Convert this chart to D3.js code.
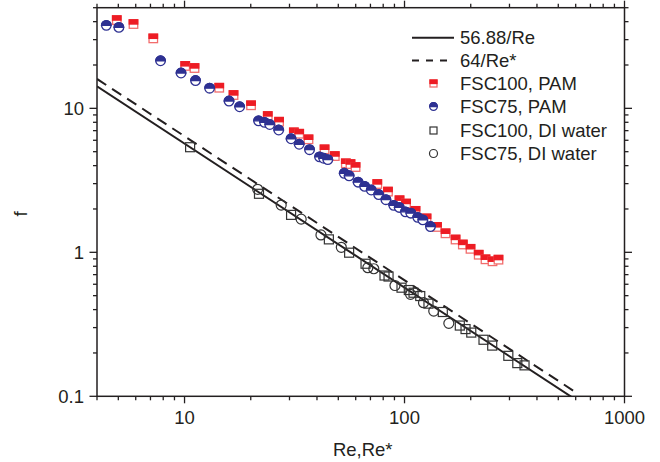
<!DOCTYPE html>
<html><head><meta charset="utf-8">
<script src="https://cdn.jsdelivr.net/npm/d3@7"></script>
<style>body{margin:0;background:#fff}svg{display:block}text{font-family:"Liberation Sans",Arial,sans-serif;fill:#231f20}</style>
</head><body><svg id="c" width="660" height="462"></svg>
<script>
// ---- data ----
const xDomain = [4, 1000];
const yDomain = [0.1, 50];
const xTickLabels = [10, 100, 1000];
const yTickLabels = [0.1, 1, 10];
const fsc100PamRe = [4.92,5.86,7.21,10.07,11.1,14.38,16.7,20.06,23.9,26.9,31.4,33.2,36.6,43.3,48.2,54.1,56.8,59.9,75.2,84.1,94.9,101.6,112.2,125.9,140.5,153.6,170.6,184.1,199.5,217.4,233.4,251.2,267.4];
const fsc100PamF  = [41.0,38.5,30.6,19.7,19.05,13.9,12.37,10.5,8.84,8.07,6.81,6.66,6.09,5.19,4.66,4.15,4.10,3.91,2.98,2.64,2.30,2.18,1.94,1.72,1.50,1.355,1.227,1.133,1.057,0.962,0.894,0.866,0.889];
const fsc75PamRe = [4.41,5.03,7.78,9.64,11.22,13.0,15.93,17.8,21.7,23.1,24.4,26.8,30.5,33.2,37.0,41.1,42.9,44.8,53.2,56.0,61.5,65.9,70.6,76.3,82.3,89.3,94.6,101.0,106.8,114.8,121.1,131.2];
const fsc75PamF  = [37.7,36.5,21.4,17.6,15.6,13.8,11.24,10.26,8.19,7.99,7.72,7.07,6.15,5.63,5.16,4.60,4.50,4.40,3.54,3.40,3.07,2.87,2.71,2.52,2.32,2.12,2.05,1.91,1.87,1.75,1.68,1.51];
const fsc100DiRe = [10.6,21.8,30.5,45.3,56.0,66.5,81.1,84.6,96.9,104.6,109.9,117.9,128.5,149.3,178.4,189.4,201.1,228.6,250.4,296.4,325.6,351.2];
const fsc100DiF  = [5.37,2.55,1.82,1.23,0.994,0.833,0.690,0.679,0.568,0.547,0.524,0.497,0.440,0.385,0.310,0.293,0.277,0.247,0.225,0.191,0.170,0.164];
const fsc75DiRe = [21.5,27.5,33.9,41.7,51.6,68.1,72.5,90.5,106.5,122.0,135.8,159.0];
const fsc75DiF  = [2.74,2.13,1.70,1.32,1.083,0.782,0.769,0.588,0.511,0.447,0.391,0.321];
const lineRange = [4, 600];
const coefSolid = 56.88, coefDashed = 64;
const legendLabels = ["56.88/Re","64/Re*","FSC100, PAM","FSC75, PAM","FSC100, DI water","FSC75, DI water"];

// ---- drawing ----
const RED = "#ed1c24", BLUE = "#2e3192", INK = "#231f20";
const svg = d3.select("#c");
const L = 97, R = 624.5, T = 7.7, B = 396.3;
const x = d3.scaleLog().domain(xDomain).range([L, R]);
const y = d3.scaleLog().domain(yDomain).range([B, T]);

svg.append("defs").append("clipPath").attr("id","clip")
  .append("rect").attr("x",L).attr("y",T).attr("width",R-L).attr("height",B-T);

// ticks
const xTicks = x.ticks().filter(v=>v>=xDomain[0] && v<=xDomain[1]);
const yTicks = y.ticks().filter(v=>v>=yDomain[0] && v<=yDomain[1]);
const isMajor = v => Math.abs(Math.log10(v) - Math.round(Math.log10(v))) < 1e-9;
const tg = svg.append("g").attr("stroke",INK).attr("stroke-width",1.3);
xTicks.forEach(v=>{
  const len = isMajor(v)?7:4;
  tg.append("line").attr("x1",x(v)).attr("x2",x(v)).attr("y1",B).attr("y2",B+len);
  tg.append("line").attr("x1",x(v)).attr("x2",x(v)).attr("y1",T).attr("y2",T-len);
});
yTicks.forEach(v=>{
  const len = isMajor(v)?7.5:4;
  tg.append("line").attr("y1",y(v)).attr("y2",y(v)).attr("x1",L).attr("x2",L-len);
  tg.append("line").attr("y1",y(v)).attr("y2",y(v)).attr("x1",R).attr("x2",R+len);
});
svg.append("rect").attr("x",L).attr("y",T).attr("width",R-L).attr("height",B-T)
  .attr("fill","none").attr("stroke",INK).attr("stroke-width",1.5);

xTickLabels.forEach(v=>svg.append("text").attr("x",x(v)).attr("y",B+28)
  .attr("text-anchor","middle").attr("font-size",18.5).text(v));
yTickLabels.forEach(v=>svg.append("text").attr("x",L-13).attr("y",y(v)+6.5)
  .attr("text-anchor","end").attr("font-size",18.5).text(v));

svg.append("text").attr("x",(L+R)/2+2).attr("y",456).attr("text-anchor","middle")
  .attr("font-size",18.5).text("Re,Re*");
svg.append("text").attr("transform","translate(27,214) rotate(-90)").attr("text-anchor","middle")
  .attr("font-size",18.5).text("f");

// lines
const pg = svg.append("g").attr("clip-path","url(#clip)");
const lineGen = d3.line().x(d=>x(d[0])).y(d=>y(d[1]));
pg.append("path").attr("d",lineGen(lineRange.map(v=>[v,coefSolid/v])))
  .attr("fill","none").attr("stroke",INK).attr("stroke-width",2);
pg.append("path").attr("d",lineGen(lineRange.map(v=>[v,coefDashed/v])))
  .attr("fill","none").attr("stroke",INK).attr("stroke-width",2).attr("stroke-dasharray","11,7");

// marker helpers
function halfSquare(g, cx, cy, s){
  g.append("rect").attr("x",cx-s/2).attr("y",cy-s/2).attr("width",s).attr("height",s)
   .attr("fill","#fff").attr("stroke","#f26d6d").attr("stroke-width",1.3);
  g.append("rect").attr("x",cx-s/2).attr("y",cy-s/2).attr("width",s).attr("height",s/2)
   .attr("fill",RED).attr("stroke",RED).attr("stroke-width",1.3);
}
function halfCircle(g, cx, cy, r){
  g.append("circle").attr("cx",cx).attr("cy",cy).attr("r",r)
   .attr("fill","#fff").attr("stroke",BLUE).attr("stroke-width",1.3);
  g.append("path").attr("d",`M${cx-r},${cy} A${r},${r} 0 0 1 ${cx+r},${cy} Z`)
   .attr("fill",BLUE).attr("stroke",BLUE).attr("stroke-width",1.3);
}
function openSquare(g, cx, cy, s){
  g.append("rect").attr("x",cx-s/2).attr("y",cy-s/2).attr("width",s).attr("height",s)
   .attr("fill","none").attr("stroke","#333").attr("stroke-width",1.2);
}
function openCircle(g, cx, cy, r){
  g.append("circle").attr("cx",cx).attr("cy",cy).attr("r",r)
   .attr("fill","none").attr("stroke","#333").attr("stroke-width",1.2);
}

const mg = svg.append("g");
fsc100DiRe.forEach((v,i)=>openSquare(mg, x(v), y(fsc100DiF[i]), 9));
fsc75DiRe.forEach((v,i)=>openCircle(mg, x(v), y(fsc75DiF[i]), 5));
fsc100PamRe.forEach((v,i)=>halfSquare(mg, x(v), y(fsc100PamF[i]), 8.5));
fsc75PamRe.forEach((v,i)=>halfCircle(mg, x(v), y(fsc75PamF[i]), 4.8));

// legend
const lg = svg.append("g");
const lx0 = 412, lx1 = 454, lmx = 433.5, ltx = 460;
const rows = [37.7, 60.5, 83.5, 106.5, 130.5, 153.5];
lg.append("line").attr("x1",lx0).attr("x2",lx1).attr("y1",rows[0]).attr("y2",rows[0])
  .attr("stroke",INK).attr("stroke-width",2);
lg.append("line").attr("x1",lx0).attr("x2",lx1).attr("y1",rows[1]).attr("y2",rows[1])
  .attr("stroke",INK).attr("stroke-width",2).attr("stroke-dasharray","7,7");
halfSquare(lg, lmx, rows[2], 7);
halfCircle(lg, lmx, rows[3], 3.8);
openSquare(lg, lmx, rows[4], 7);
openCircle(lg, lmx, rows[5], 4);
legendLabels.forEach((t,i)=>lg.append("text").attr("x",ltx).attr("y",rows[i]+6.5)
  .attr("font-size",18.5).text(t));
</script></body></html>
